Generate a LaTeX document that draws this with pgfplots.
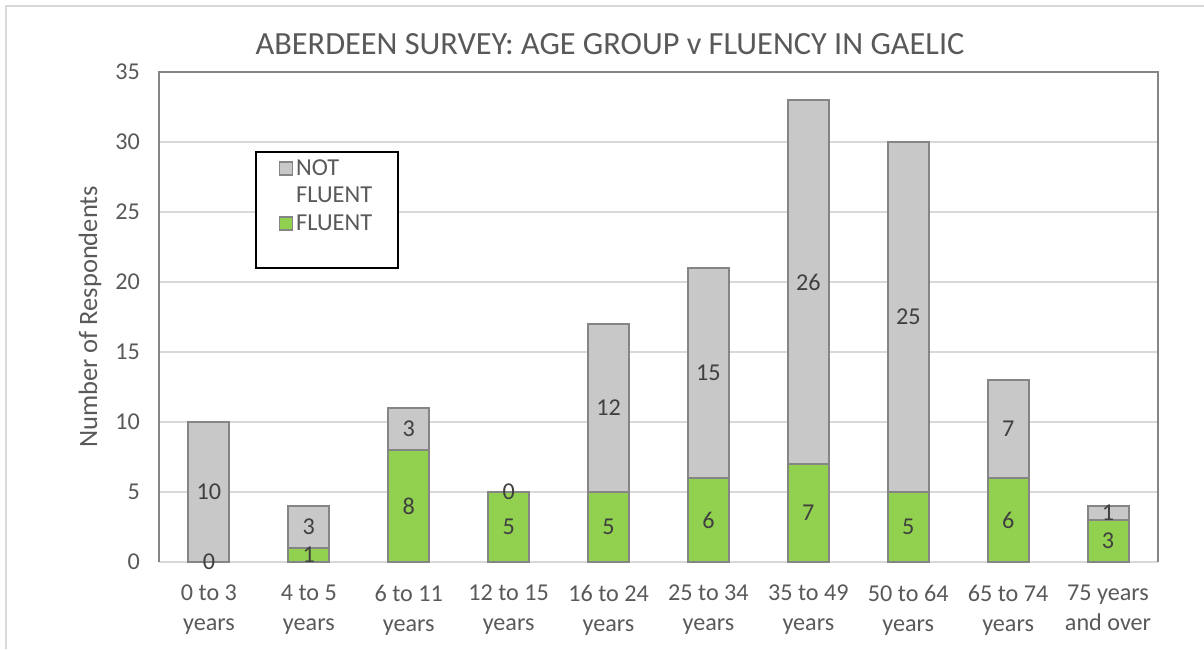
\documentclass[border=0pt]{standalone}
\usepackage{pgfplots}
\usepackage{pgfplotstable}
\pgfplotsset{compat=1.18}
\usepackage{fontspec}
\setmainfont{Carlito}
\definecolor{txt}{HTML}{595959}
\definecolor{lbl}{HTML}{404040}
\definecolor{gridc}{HTML}{D9D9D9}
\definecolor{edge}{HTML}{858585}
\definecolor{nf}{HTML}{C8C8C8}
\definecolor{fl}{HTML}{92D050}

\pgfplotstableread{
x fluent notfluent
0 0 10
1 1 3
2 8 3
3 5 0
4 5 12
5 6 15
6 7 26
7 5 25
8 6 7
9 3 1
}\survey

\pgfplotstableread{
x y l
0 0 0
0 5 10
1 0.5 1
1 2.5 3
2 4 8
2 9.5 3
3 2.5 5
3 5 0
4 2.5 5
4 11 12
5 3 6
5 13.5 15
6 3.5 7
6 20 26
7 2.5 5
7 17.5 25
8 3 6
8 9.5 7
9 1.5 3
9 3.5 1
}\labels

\begin{document}
\begin{tikzpicture}
\useasboundingbox (0,0) rectangle (722.4pt,389.4pt);
\draw[gridc, line width=1.2pt] (3.6pt,0) -- (3.6pt,385.8pt) -- (722.4pt,385.8pt);
\node[font=\fontsize{19.4}{22}\selectfont, text=txt] at (366pt,363pt) {ABERDEEN SURVEY: AGE GROUP v FLUENCY IN GAELIC};
\node[rotate=90, font=\fontsize{15.9}{18}\selectfont, text=txt] at (54pt,199.2pt) {Number of Respondents};
\begin{axis}[
  at={(95.4pt,52.2pt)}, anchor=south west,
  scale only axis, width=599.4pt, height=294pt,
  ybar stacked, bar width=0.41,
  xmin=-0.5, xmax=9.5, ymin=0, ymax=35,
  xtick={0,...,9},
  xticklabels={{0 to 3\\years},{4 to 5\\years},{6 to 11\\years},{12 to 15\\years},{16 to 24\\years},{25 to 34\\years},{35 to 49\\years},{50 to 64\\years},{65 to 74\\years},{75 years\\and over}},
  ytick={0,5,...,35},
  ymajorgrids, grid style={gridc, line width=0.9pt},
  major tick length=0pt,
  axis line style={draw=none},
  tick label style={font=\fontsize{14.5}{18}\selectfont, text=txt},
  xticklabel style={align=center, yshift=-10.2pt},
  yticklabel style={xshift=-8pt},
  /pgf/number format/assume math mode=true,
  legend style={at={(rel axis cs:0.0961,0.8388)}, anchor=north west, draw=black, line width=1pt,
    font=\fontsize{14.6}{16.8}\selectfont, text=txt, inner xsep=13.6pt, inner ysep=2.6pt, row sep=1.6pt,
    cells={anchor=west}},
  legend cell align=left,
  clip=false,
]
\addlegendimage{legend image code/.code={\draw[fill=nf, draw=edge, line width=0.8pt] (0pt,-3.9pt) rectangle (7.8pt,3.9pt);}}
\addlegendentry{NOT}
\addlegendimage{empty legend}
\addlegendentry{FLUENT}
\addlegendimage{legend image code/.code={\draw[fill=fl, draw=edge, line width=0.8pt] (0pt,-3.9pt) rectangle (7.8pt,3.9pt);}}
\addlegendentry{FLUENT}
\addlegendimage{empty legend}
\addlegendentry{\phantom{X}}
\addplot[fill=fl, draw=edge, line width=1.2pt, forget plot] table[x=x, y=fluent] {\survey};
\addplot[fill=nf, draw=edge, line width=1.2pt, forget plot] table[x=x, y=notfluent] {\survey};
\draw[edge, line width=1.2pt] (rel axis cs:0,0) -- (rel axis cs:0,1) -- (rel axis cs:1,1) -- (rel axis cs:1,0);
\end{axis}
\begin{axis}[
  at={(95.4pt,52.2pt)}, anchor=south west,
  scale only axis, width=599.4pt, height=294pt,
  xmin=-0.5, xmax=9.5, ymin=0, ymax=35,
  hide axis, clip=false,
]
\addplot[draw=none, mark=none, nodes near coords, point meta=explicit symbolic,
  every node near coord/.style={anchor=center, font=\fontsize{14.5}{17}\selectfont, text=lbl}]
  table[x=x, y=y, meta=l] {\labels};
\end{axis}
\end{tikzpicture}
\end{document}
